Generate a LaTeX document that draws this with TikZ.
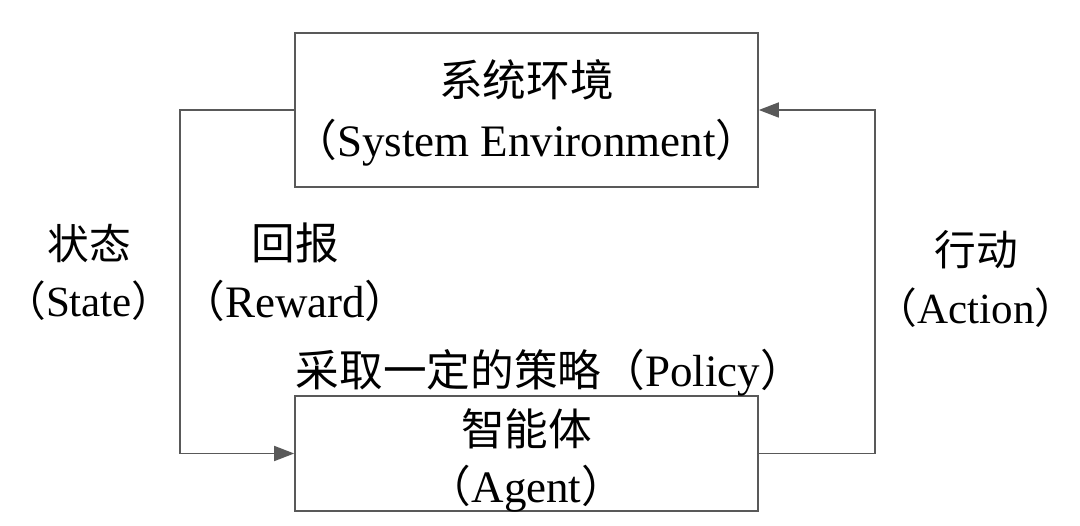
\documentclass[tikz,border=0pt]{standalone}
\usepackage{fontspec}
\setmainfont{Liberation Serif}
\newfontfamily\cjk{Noto Sans CJK SC}[Scale=0.97]
\usetikzlibrary{arrows.meta}
\newcommand{\lp}{\makebox[0.62em][r]{\cjk （}}
\newcommand{\rp}{\makebox[0.62em][l]{\cjk ）}}
\tikzset{
  box/.style={draw=black!65, line width=1.6pt, rectangle, inner sep=0pt},
  lbl/.style={align=center, inner sep=0pt},
  conn/.style={draw=black!65, line width=1.6pt},
  arr/.style={conn, -{Triangle[length=20pt, width=15pt]}},
}
\begin{document}
\begin{tikzpicture}[x=1pt, y=-1pt, font=\fontsize{45}{58}\selectfont]
\useasboundingbox (0,0) rectangle (1080,526);
\node[box, minimum width=463pt, minimum height=154pt,
  label={[lbl, yshift=-3pt]center:{\cjk 系统环境}\\[2pt]\lp System Environment\rp}] (env) at (526.5,110) {};
\node[box, minimum width=463pt, minimum height=115pt,
  label={[lbl, yshift=-7pt]center:{\cjk 智能体}\\[-1pt]\lp Agent\rp}] (agent) at (526.5,453.5) {};
\node[lbl, font=\fontsize{43}{57}\selectfont] (state) at (89,272) {{\cjk 状态}\\\lp State\rp};
\node[lbl] (reward) at (295,272) {{\cjk 回报}\\\lp Reward\rp};
\node[lbl, font=\fontsize{43}{58}\selectfont] (action) at (976,279) {{\cjk 行动}\\\lp Action\rp};
\node[lbl] (policy) at (542,373) {{\cjk 采取一定的策略（}Policy\rp};
\coordinate (L) at (180,110);
\coordinate (R) at (875,453.5);
\draw[arr] (env.west) -- (L) |- (agent.west);
\draw[arr] (agent.east) -- (R) |- (env.east);
\end{tikzpicture}
\end{document}
